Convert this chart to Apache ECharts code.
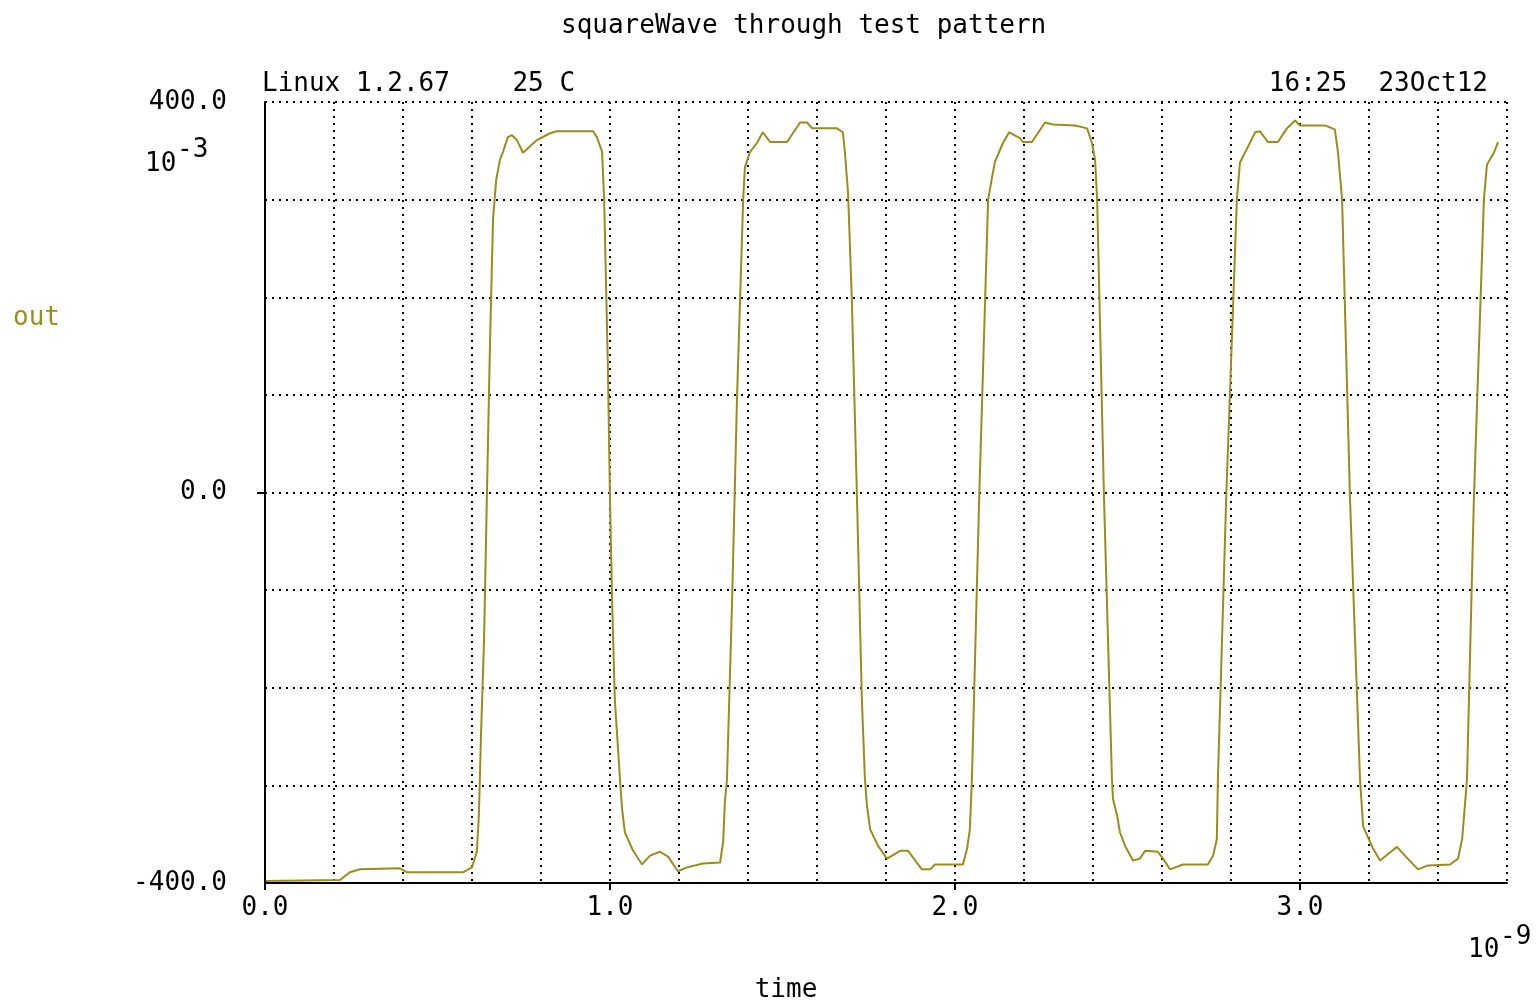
<!DOCTYPE html>
<html>
<head>
<meta charset="utf-8">
<style>
  html, body { margin: 0; padding: 0; background: #fff; }
  #chart { width: 1538px; height: 1007px; }
</style>
<script src="https://cdn.jsdelivr.net/npm/echarts@6/dist/echarts.min.js"></script>
</head>
<body>
<div id="chart"></div>
<script>
// time in 1e-9 s
const timeNs = [
  0, 0.217, 0.246, 0.275, 0.391, 0.412, 0.574, 0.600, 0.614, 0.620, 0.626, 0.635, 0.643, 0.652, 0.661, 0.670,
  0.681, 0.690, 0.704, 0.716, 0.730, 0.748, 0.788, 0.826, 0.846, 0.951, 0.962, 0.977, 0.983, 0.994, 1.000, 1.006,
  1.014, 1.029, 1.035, 1.043, 1.067, 1.093, 1.116, 1.145, 1.168, 1.197, 1.223, 1.270, 1.319, 1.328, 1.333, 1.339,
  1.354, 1.368, 1.386, 1.391, 1.406, 1.426, 1.443, 1.464, 1.513, 1.551, 1.571, 1.586, 1.658, 1.675, 1.681, 1.690,
  1.701, 1.716, 1.730, 1.739, 1.745, 1.754, 1.777, 1.803, 1.841, 1.864, 1.904, 1.928, 1.942, 2.023, 2.035, 2.043,
  2.049, 2.070, 2.096, 2.107, 2.116, 2.139, 2.157, 2.188, 2.197, 2.223, 2.261, 2.284, 2.348, 2.383, 2.397, 2.406,
  2.412, 2.432, 2.455, 2.458, 2.470, 2.478, 2.493, 2.516, 2.536, 2.551, 2.588, 2.603, 2.623, 2.661, 2.733, 2.748,
  2.759, 2.762, 2.786, 2.817, 2.826, 2.849, 2.870, 2.884, 2.907, 2.936, 2.962, 2.986, 3.000, 3.072, 3.101, 3.110,
  3.122, 3.145, 3.174, 3.183, 3.212, 3.232, 3.267, 3.281, 3.304, 3.342, 3.371, 3.435, 3.458, 3.470, 3.484, 3.504,
  3.533, 3.542, 3.562, 3.574
];
// out in 1e-3
const outMv = [
  -398, -397, -389, -386, -385, -389, -389, -384, -368, -330, -250, -150, -7, 150, 280, 320,
  341, 349, 364, 366, 361, 348, 361, 368, 370, 370, 364, 349, 300, 126, -7, -109,
  -212, -294, -324, -348, -367, -381, -372, -368, -373, -388, -384, -380, -379, -358, -317, -294,
  -109, 95, 300, 333, 349, 358, 369, 359, 359, 379, 379, 373, 373, 369, 348, 307,
  197, -7, -212, -294, -321, -345, -362, -375, -367, -367, -386, -386, -381, -381, -365, -345,
  -294, -7, 300, 322, 339, 358, 369, 363, 359, 359, 379, 377, 376, 373, 358, 341,
  300, -7, -294, -314, -331, -348, -362, -377, -375, -367, -368, -375, -386, -381, -381, -372,
  -355, -294, -7, 300, 338, 354, 369, 370, 359, 359, 373, 381, 376, 376, 372, 349,
  300, -7, -294, -342, -365, -377, -367, -363, -372, -386, -382, -381, -375, -355, -294, -7,
  300, 336, 348, 359
];
const xLabelValues = [0, 1, 2, 3];
const yLabelValues = [-400, 0, 400];

const FONT = '"DejaVu Sans Mono", "Liberation Mono", monospace';
const LINE_COLOR = '#9b8c1e';

const chart = echarts.init(document.getElementById('chart'));

const seriesData = timeNs.map((t, i) => [t, outMv[i]]);

const dotted = { color: '#000', width: 2, type: [2, 5] };

// second axis of each pair only carries the dotted grid
const gridAxis = {
  type: 'value',
  axisLine: { show: false },
  axisTick: { show: false },
  axisLabel: { show: false },
  splitLine: { show: true, lineStyle: dotted }
};

const option = {
  animation: false,
  backgroundColor: '#fff',
  title: {
    text: 'squareWave through test pattern',
    left: 556,
    top: 8,
    textStyle: { fontFamily: FONT, fontSize: 26, fontWeight: 'normal', color: '#000' }
  },
  grid: { left: 265, right: 31, top: 102, bottom: 124 },
  xAxis: [
    {
      type: 'value',
      min: 0,
      max: 3.6,
      interval: 0.2,
      axisLine: { show: true, onZero: false, lineStyle: { color: '#000', width: 2 } },
      axisTick: { show: true, customValues: xLabelValues, length: 7, lineStyle: { color: '#000', width: 2 } },
      axisLabel: {
        customValues: xLabelValues,
        margin: 12,
        fontFamily: FONT,
        fontSize: 26,
        color: '#000',
        formatter: v => v.toFixed(1)
      },
      splitLine: { show: false },
      z: 5
    },
    Object.assign({ min: 0, max: 3.6, interval: 0.2, position: 'top' }, gridAxis)
  ],
  yAxis: [
    {
      type: 'value',
      min: -400,
      max: 400,
      interval: 100,
      axisLine: { show: true, onZero: false, lineStyle: { color: '#000', width: 2 } },
      axisTick: { show: true, customValues: [0], length: 8, lineStyle: { color: '#000', width: 2 } },
      axisLabel: {
        customValues: yLabelValues,
        margin: 38,
        fontFamily: FONT,
        fontSize: 26,
        color: '#000',
        formatter: v => v.toFixed(1)
      },
      splitLine: { show: false },
      z: 5
    },
    Object.assign({ min: -400, max: 400, interval: 100, position: 'right' }, gridAxis)
  ],
  graphic: [
    { type: 'text', x: 262, y: 84, style: { text: 'Linux 1.2.67    25 C', font: '26px ' + FONT, fill: '#000', verticalAlign: 'middle' } },
    { type: 'text', x: 1488, y: 84, style: { text: '16:25  23Oct12', font: '26px ' + FONT, fill: '#000', align: 'right', verticalAlign: 'middle' } },
    { type: 'text', x: 145, y: 164, style: { text: '10', font: '26px ' + FONT, fill: '#000', verticalAlign: 'middle' } },
    { type: 'text', x: 177, y: 150, style: { text: '-3', font: '26px ' + FONT, fill: '#000', verticalAlign: 'middle' } },
    { type: 'text', x: 13, y: 318, style: { text: 'out', font: '26px ' + FONT, fill: LINE_COLOR, verticalAlign: 'middle' } },
    { type: 'text', x: 1468, y: 950, style: { text: '10', font: '26px ' + FONT, fill: '#000', verticalAlign: 'middle' } },
    { type: 'text', x: 1500, y: 937, style: { text: '-9', font: '26px ' + FONT, fill: '#000', verticalAlign: 'middle' } },
    { type: 'text', x: 786, y: 990, style: { text: 'time', font: '26px ' + FONT, fill: '#000', align: 'center', verticalAlign: 'middle' } }
  ],
  series: [
    {
      name: 'out',
      type: 'line',
      xAxisIndex: 0,
      yAxisIndex: 0,
      data: seriesData,
      showSymbol: false,
      lineStyle: { color: LINE_COLOR, width: 2 },
      z: 3
    }
  ]
};

chart.setOption(option);
</script>
</body>
</html>
